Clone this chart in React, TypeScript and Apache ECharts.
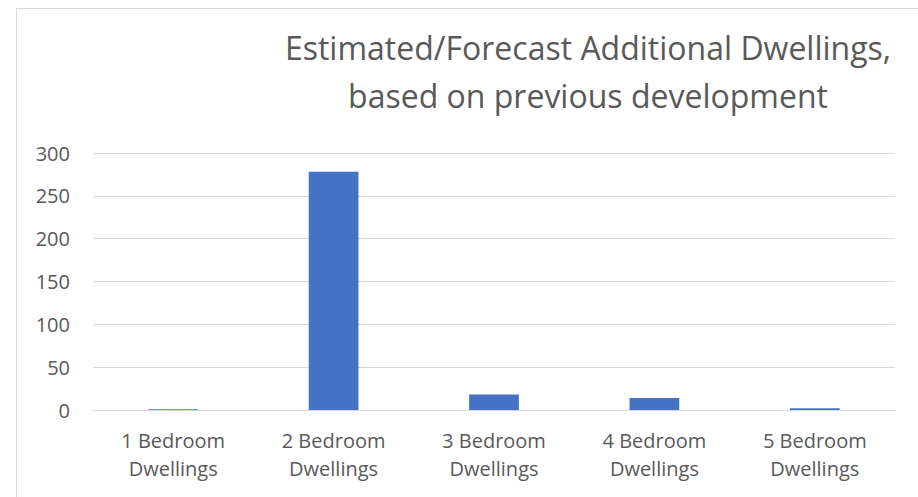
import React, { useEffect, useRef } from "react";
import * as echarts from "echarts";

const categories = [
  "1 Bedroom\nDwellings",
  "2 Bedroom\nDwellings",
  "3 Bedroom\nDwellings",
  "4 Bedroom\nDwellings",
  "5 Bedroom\nDwellings",
];
const values = [1, 278, 18, 14, 2];
const titleLines = ["Estimated/Forecast Additional Dwellings,", "based on previous development"];

export default function App() {
  const ref = useRef<HTMLDivElement>(null);
  useEffect(() => {
    if (!ref.current) return;
    const chart = echarts.init(ref.current, undefined, { renderer: "svg" });
    const font = "'Open Sans', sans-serif";
    chart.setOption({
      animation: false,
      grid: { left: 93, right: 23, top: 153, bottom: 87 },
      graphic: [
        {
          type: "text",
          x: 588,
          y: 47,
          style: {
            text: titleLines[0],
            textAlign: "center",
            textVerticalAlign: "middle",
            fontSize: 32,
            fontFamily: font,
            fill: "#595959",
          },
        },
        {
          type: "text",
          x: 588,
          y: 95,
          style: {
            text: titleLines[1],
            textAlign: "center",
            textVerticalAlign: "middle",
            fontSize: 32,
            fontFamily: font,
            fill: "#595959",
          },
        },
      ],
      xAxis: {
        type: "category",
        data: categories,
        axisLine: { lineStyle: { color: "#d9d9d9", width: 1 } },
        axisTick: { show: false },
        axisLabel: {
          color: "#595959",
          fontSize: 20,
          fontFamily: font,
          lineHeight: 28,
          margin: 16,
          interval: 0,
        },
      },
      yAxis: {
        type: "value",
        min: 0,
        max: 300,
        interval: 50,
        axisLine: { show: false },
        axisTick: { show: false },
        splitLine: { lineStyle: { color: "#d9d9d9", width: 1 } },
        axisLabel: {
          color: "#595959",
          fontSize: 20,
          fontFamily: font,
          margin: 23,
        },
      },
      series: [
        {
          type: "bar",
          data: values,
          barWidth: "31%",
          itemStyle: { color: "#4472C4" },
        },
      ],
    });
    return () => chart.dispose();
  }, []);
  return (
    <div style={{ position: "fixed", left: 0, top: 0, width: 918, height: 497, background: "#fff" }}>
      <div
        style={{
          position: "absolute",
          left: 16,
          top: 8,
          width: 918,
          height: 497,
          border: "1px solid #d9d9d9",
          boxSizing: "border-box",
        }}
      />
      <div ref={ref} style={{ position: "absolute", left: 0, top: 0, width: 918, height: 497 }} />
    </div>
  );
}
